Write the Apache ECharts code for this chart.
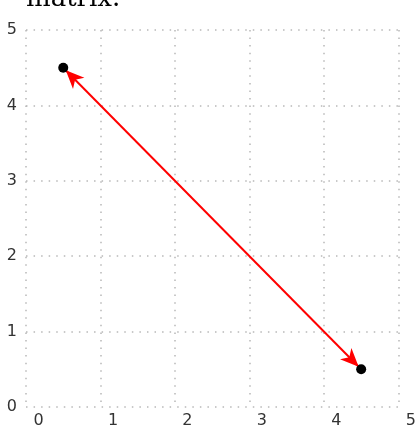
<!DOCTYPE html>
<html>
<head>
<meta charset="utf-8">
<script src="https://cdn.jsdelivr.net/npm/echarts@6/dist/echarts.min.js"></script>
<style>
html,body{margin:0;padding:0;background:#fff;}
#chart{width:419px;height:429px;}
</style>
</head>
<body>
<div id="chart"></div>
<script>
const titleText = 'matrix.';
const xTicks = [0, 1, 2, 3, 4, 5];
const yTicks = [0, 1, 2, 3, 4, 5];
const pointX = [0.5, 4.5];
const pointY = [4.5, 0.5];
const arrowFrom = [0.5, 4.5];
const arrowTo = [4.5, 0.5];

const chart = echarts.init(document.getElementById('chart'), null, {renderer: 'canvas'});
const gridLine = {show: true, lineStyle: {color: '#b8b8b8', width: 1.5, type: [1.5, 6.06]}};
const labelFont = {fontFamily: 'DejaVu Sans', fontSize: 16, color: '#333333'};
// arrow head; the invisible move-to keeps the box centred near the tip
const headPath = 'path://M0,-22 Z M0,3 L8,21 L0,16 L-8,21 Z';

chart.setOption({
  animation: false,
  title: {
    text: titleText,
    left: 26,
    top: -14,
    padding: 0,
    textStyle: {fontFamily: 'DejaVu Serif', fontSize: 26, fontWeight: 'normal', color: '#000'}
  },
  grid: {left: 26, top: 30, width: 378, height: 378, containLabel: false},
  xAxis: {
    type: 'value',
    min: xTicks[0],
    max: xTicks[xTicks.length - 1],
    interval: 1,
    axisLine: {show: false},
    axisTick: {show: false},
    splitLine: gridLine,
    axisLabel: Object.assign({margin: 6, padding: [0, 0, 0, 25], align: 'center', verticalAlign: 'top', showMinLabel: true, showMaxLabel: true}, labelFont)
  },
  yAxis: {
    type: 'value',
    min: yTicks[0],
    max: yTicks[yTicks.length - 1],
    interval: 1,
    axisLine: {show: false},
    axisTick: {show: false},
    splitLine: gridLine,
    axisLabel: Object.assign({margin: 9, padding: [0, 0, 22, 0], align: 'right', verticalAlign: 'middle', showMinLabel: true, showMaxLabel: true}, labelFont)
  },
  series: [{
    type: 'scatter',
    data: pointX.map((x, i) => [x, pointY[i]]),
    symbol: 'circle',
    symbolSize: 10,
    itemStyle: {color: '#000', opacity: 1},
    z: 3,
    silent: true,
    markLine: {
      silent: true,
      animation: false,
      symbol: [headPath, headPath],
      symbolSize: [16, 44],
      label: {show: false},
      lineStyle: {color: '#ff0000', width: 2, type: 'solid', opacity: 1},
      emphasis: {disabled: true},
      data: [[{coord: arrowFrom}, {coord: arrowTo}]],
      z: 2
    }
  }]
});
</script>
</body>
</html>
